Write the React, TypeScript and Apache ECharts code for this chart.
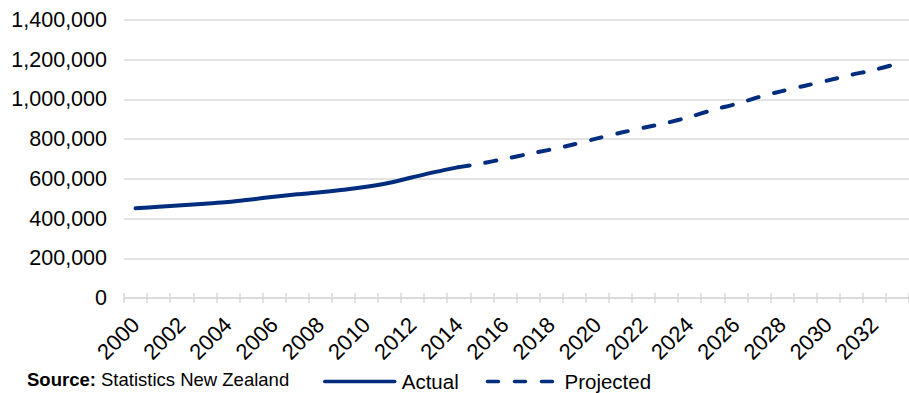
import React, { useEffect, useRef } from "react";
import * as echarts from "echarts";

// Years shown on the category axis
const years: string[] = [];
for (let y = 2000; y <= 2033; y++) years.push(String(y));

// Recorded population, 2000–2014
const actualValues: number[] = [
  452000, 459000, 467000, 475000, 483000, 496000, 510000, 522000, 532000,
  545000, 560000, 580000, 608000, 635000, 659000,
];

// Projected population, 2014–2033 (starts at the last recorded year)
const projectedValues: number[] = [
  659000, 678000, 701000, 725000, 748000, 774000, 804000, 832000, 857000,
  882000, 912000, 947000, 977000, 1012000, 1042000, 1069000, 1096000,
  1124000, 1149000, 1180000,
];

const yTicks = { min: 0, max: 1400000, interval: 200000 };

const NAVY = "#002D7D";
const GRID = "#D9D9D9";
const FONT = "'Liberation Sans', Arial, Helvetica, sans-serif";

const projectedStart = years.indexOf("2014");

const actualSeries: (number | null)[] = years.map((_, i) =>
  i < actualValues.length ? actualValues[i] : null
);
const projectedSeries: (number | null)[] = years.map((_, i) =>
  i >= projectedStart && i - projectedStart < projectedValues.length
    ? projectedValues[i - projectedStart]
    : null
);

export default function App() {
  const ref = useRef<HTMLDivElement>(null);

  useEffect(() => {
    if (!ref.current) return;
    const chart = echarts.init(ref.current, undefined, { renderer: "svg" });
    chart.setOption({
      animation: false,
      backgroundColor: "#ffffff",
      textStyle: { fontFamily: FONT },
      grid: { left: 124, right: -9, top: 20, bottom: 95, containLabel: false },
      legend: {
        left: 323,
        top: 371,
        padding: 0,
        itemWidth: 70,
        itemHeight: 14,
        itemGap: 27,
        itemStyle: { opacity: 0 },
        lineStyle: { width: 3.5 },
        textStyle: {
          fontSize: 20.5,
          lineHeight: 18,
          color: "#000",
          fontFamily: FONT,
          padding: [0, 0, 0, 2],
        },
        data: ["Actual", "Projected"],
      },
      graphic: [
        {
          type: "text",
          left: 27,
          top: 370,
          style: {
            text: "{b|Source:} Statistics New Zealand",
            rich: {
              b: { fontWeight: "bold", fontSize: 18.5, fontFamily: FONT, fill: "#000" },
            },
            fontSize: 18.5,
            fontFamily: FONT,
            fill: "#000",
          },
        },
      ],
      xAxis: [
        {
          type: "category",
          data: years,
          boundaryGap: true,
          axisLine: { lineStyle: { color: GRID, width: 1.5 } },
          axisTick: {
            show: true,
            interval: 0,
            length: 5,
            lineStyle: { color: GRID, width: 1.5 },
          },
          axisLabel: {
            interval: 1,
            rotate: 45,
            fontSize: 22,
            color: "#000",
            fontFamily: FONT,
            margin: 23,
          },
          splitLine: { show: false },
        },
        {
          type: "category",
          data: years,
          position: "bottom",
          boundaryGap: true,
          axisLine: { show: false },
          axisTick: {
            show: true,
            inside: true,
            interval: 0,
            length: 5,
            lineStyle: { color: GRID, width: 1.5 },
          },
          axisLabel: { show: false },
          splitLine: { show: false },
        },
      ],
      yAxis: {
        type: "value",
        min: yTicks.min,
        max: yTicks.max,
        interval: yTicks.interval,
        axisLine: { show: false },
        axisTick: { show: false },
        axisLabel: {
          fontSize: 21.5,
          color: "#000",
          fontFamily: FONT,
          margin: 17,
          formatter: (v: number) => v.toLocaleString("en-US"),
        },
        splitLine: { lineStyle: { color: GRID, width: 1.5 } },
      },
      series: [
        {
          name: "Actual",
          type: "line",
          data: actualSeries,
          showSymbol: false,
          symbol: "none",
          smooth: 0.3,
          lineStyle: { color: NAVY, width: 4, cap: "round", join: "round" },
          itemStyle: { color: NAVY },
          z: 2,
        },
        {
          name: "Projected",
          type: "line",
          data: projectedSeries,
          showSymbol: false,
          symbol: "none",
          smooth: 0.3,
          lineStyle: {
            color: NAVY,
            width: 4,
            type: [11, 16],
            cap: "round",
            join: "round",
          },
          itemStyle: { color: NAVY },
          z: 3,
        },
      ],
    });
    return () => chart.dispose();
  }, []);

  return (
    <div
      ref={ref}
      style={{ position: "fixed", left: 0, top: 0, width: 909, height: 393 }}
    />
  );
}
